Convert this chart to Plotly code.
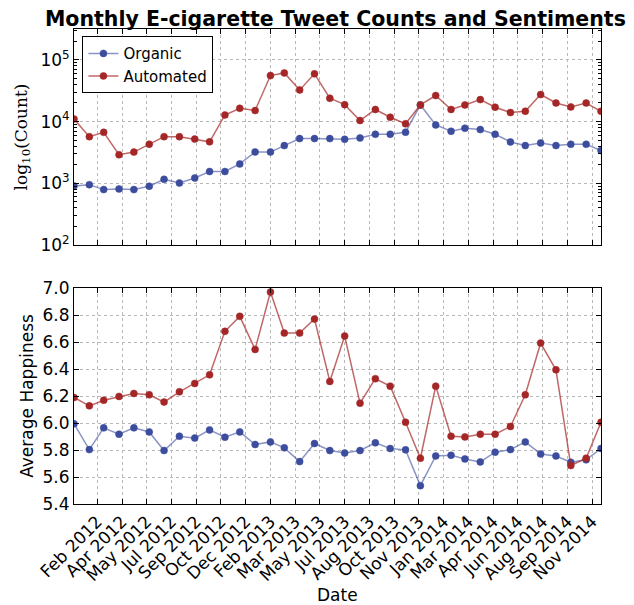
import plotly.graph_objects as go
from plotly.subplots import make_subplots

# months Jan 2012 .. Dec 2014
months = ["%d-%02d-01" % (y, m) for y in (2012, 2013, 2014) for m in range(1, 13)]

organic_counts = [905, 950, 790, 810, 790, 895, 1160, 1010, 1220, 1550, 1550, 2060,
                  3220, 3220, 4080, 5300, 5300, 5300, 5170, 5430, 6230, 6230, 6720, 18600,
                  8830, 6970, 7800, 7420, 6230, 4680, 4080, 4510, 4080, 4290, 4290, 3390]
automated_counts = [11000, 5700, 6700, 2900, 3200, 4300, 5700, 5700, 5200, 4700, 12800, 16400,
                    15100, 55700, 61500, 32600, 59300, 23900, 18800, 10400, 15700, 11750, 9200, 18600,
                    26400, 15700, 18600, 22700, 17100, 14000, 14700, 27400, 20000, 17300, 20000, 14700]

organic_happy = [5.994, 5.803, 5.964, 5.917, 5.964, 5.934, 5.796, 5.902, 5.888, 5.949, 5.895, 5.934,
                 5.841, 5.860, 5.816, 5.714, 5.848, 5.796, 5.778, 5.796, 5.853, 5.811, 5.801, 5.536,
                 5.756, 5.761, 5.734, 5.712, 5.784, 5.803, 5.860, 5.771, 5.756, 5.709, 5.727, 5.811]
automated_happy = [6.189, 6.127, 6.169, 6.197, 6.219, 6.209, 6.155, 6.231, 6.293, 6.357, 6.679, 6.790,
                   6.545, 6.970, 6.666, 6.666, 6.770, 6.308, 6.644, 6.147, 6.328, 6.273, 6.006, 5.739,
                   6.273, 5.902, 5.897, 5.917, 5.917, 5.974, 6.209, 6.592, 6.394, 5.685, 5.739, 6.006]

tick_dates = ["2012-02-17", "2012-04-07", "2012-05-27", "2012-07-16", "2012-09-04", "2012-10-24",
              "2012-12-13", "2013-02-01", "2013-03-23", "2013-05-12", "2013-07-01", "2013-08-20",
              "2013-10-09", "2013-11-28", "2014-01-17", "2014-03-08", "2014-04-27", "2014-06-16",
              "2014-08-05", "2014-09-24", "2014-11-13"]
tick_labels = ["Feb 2012", "Apr 2012", "May 2012", "Jul 2012", "Sep 2012", "Oct 2012", "Dec 2012",
               "Feb 2013", "Mar 2013", "May 2013", "Jul 2013", "Aug 2013", "Oct 2013", "Nov 2013",
               "Jan 2014", "Mar 2014", "Apr 2014", "Jun 2014", "Aug 2014", "Sep 2014", "Nov 2014"]

blue = '#3d4d9e'
blue_line = 'rgba(61,77,158,0.6)'
red = '#a52626'
red_line = 'rgba(165,38,38,0.7)'
font = 'DejaVu Sans'

fig = make_subplots(rows=2, cols=1, shared_xaxes=True, vertical_spacing=43/475)

def add(y, name, mc, lc, row, legend):
    fig.add_trace(go.Scatter(x=months, y=y, name=name, mode='lines+markers',
                             line=dict(color=lc, width=1.5),
                             marker=dict(color=mc, size=7, line=dict(color=mc, width=0.5)),
                             showlegend=legend), row=row, col=1)

add(organic_counts, 'Organic', blue, blue_line, 1, True)
add(automated_counts, 'Automated', red, red_line, 1, True)
add(organic_happy, 'Organic', blue, blue_line, 2, False)
add(automated_happy, 'Automated', red, red_line, 2, False)

axis_common = dict(showline=True, linecolor='black', linewidth=1, mirror='ticks',
                   ticks='inside', ticklen=5, tickcolor='black', automargin=False,
                   showgrid=True, gridcolor='#b8b8b8', griddash='dot', gridwidth=1,
                   zeroline=False, tickfont=dict(family=font, size=17, color='black'))

xr = ['2012-01-01', '2014-12-01']
fig.update_xaxes(axis_common, range=xr, tickvals=tick_dates, ticktext=tick_labels)
fig.update_xaxes(showticklabels=False, row=1, col=1)
fig.update_xaxes(tickangle=-45, tickfont=dict(size=17), row=2, col=1)

fig.update_yaxes(axis_common)
fig.update_yaxes(type='log', range=[2, 5.5], tickvals=[100, 1000, 10000, 100000],
                 ticktext=['10<sup>2</sup>', '10<sup>3</sup>', '10<sup>4</sup>', '10<sup>5</sup>'],
                 minor=dict(ticks='inside', ticklen=3, tickcolor='black', showgrid=False, dtick='D1'),
                 title=dict(text='log<sub>10</sub>(Count)',
                            font=dict(family='DejaVu Serif', size=17, color='black'), standoff=8),
                 row=1, col=1)
fig.update_yaxes(range=[5.4, 7.0], dtick=0.2, tickformat='.1f',
                 title=dict(text='Average Happiness', font=dict(family=font, size=17, color='black'),
                            standoff=4),
                 row=2, col=1)

# x-axis title placed as an annotation so it sits below the rotated labels
fig.add_annotation(text='Date', xref='paper', yref='paper', x=0.5, y=-0.192,
                   xanchor='center', yanchor='middle', showarrow=False,
                   font=dict(family=font, size=17, color='black'))

# page body adds an 8px offset, so the figure is 8px smaller than the window
fig.update_layout(
    width=626, height=597,
    margin=dict(l=66, r=33, t=21, b=101),
    paper_bgcolor='white', plot_bgcolor='white',
    title=dict(text='<b>Monthly E-cigarette Tweet Counts and Sentiments</b>',
               font=dict(family=font, size=20.5, color='black'),
               x=0.523, xanchor='center', y=0.982, yanchor='middle'),
    legend=dict(x=0.016, y=0.985, xanchor='left', yanchor='top',
                bgcolor='white', bordercolor='black', borderwidth=1,
                font=dict(family=font, size=15, color='black')),
    showlegend=True,
)

fig.write_html("out.html")
